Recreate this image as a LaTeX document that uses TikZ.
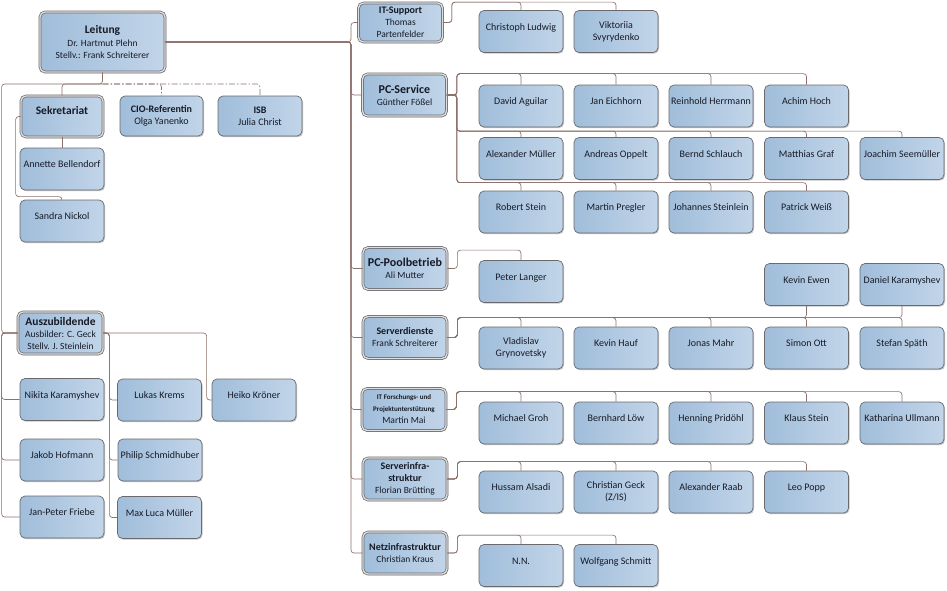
\documentclass[tikz,border=0pt]{standalone}
\usepackage{fontspec}
\setmainfont{Carlito}
\usetikzlibrary{positioning}
\usetikzlibrary{calc}
\usetikzlibrary{shadows}

\definecolor{boxl}{RGB}{160,189,218}
\definecolor{boxr}{RGB}{194,213,233}
\definecolor{linkc}{RGB}{140,112,106}
\definecolor{framec}{RGB}{105,105,110}
\definecolor{txt}{RGB}{22,26,38}

\newcommand\hdbig{\fontsize{12}{13}\selectfont\bfseries}
\newcommand\hdmid{\fontsize{11.5}{13}\selectfont\bfseries}
\newcommand\hdsm{\fontsize{10}{12}\selectfont\bfseries}
\newcommand\hdtiny{\fontsize{7}{11}\selectfont\bfseries}

\begin{document}
\begin{tikzpicture}[x=1pt,y=1pt]
          \tikzstyle{box} = [rectangle, rounded corners=5pt, draw=framec, line width=0.7pt, left color=boxl, right color=boxr, text=txt, align=center, inner sep=1pt, minimum width=84pt, minimum height=42pt, font=\fontsize{10}{12}\selectfont, drop shadow={shadow xshift=1pt, shadow yshift=-1.2pt, fill=black!45, opacity=0.5}]
          \tikzstyle{staff} = [box, text height=7pt, text depth=10pt]
          \tikzstyle{staffii} = [box]
          \tikzstyle{head} = [box, double=gray!25, double distance=1.3pt, font=\fontsize{9.5}{12}\selectfont]
          \tikzstyle{link} = [draw=linkc, line width=0.65pt, rounded corners=3pt]
          \tikzstyle{adviser} = [dash pattern=on 6pt off 2pt on 1.5pt off 2pt]

          \fill[white] (0,0) rectangle (947,-590);
          \useasboundingbox (0,0) rectangle (947,-590);

          % Heads
          \node[head, minimum width=125pt, minimum height=60pt] (leitung) at (102.5,-42) {{\hdmid Leitung}\\[1pt]Dr. Hartmut Plehn\\Stellv.: Frank Schreiterer};
          \node[head, minimum width=82pt, minimum height=41pt, text height=8pt, text depth=12pt] (sek) at (62,-116.5) {\hdmid Sekretariat};
          \node[box, minimum width=83pt, minimum height=40pt] (cio) at (161.5,-116) {{\hdsm CIO-Referentin}\\Olga Yanenko};
          \node[box, minimum width=84pt, minimum height=40pt] (isb) at (260,-116) {{\hdsm ISB}\\Julia Christ};
          \node[head, minimum width=85pt] (azubi) at (60.5,-333) {{\hdmid Auszubildende}\\Ausbilder: C. Geck\\Stellv. J. Steinlein};

          \node[head, minimum height=39pt] (its) at (400.5,-22.5) {{\hdsm IT-Support}\\Thomas\\Partenfelder};
          \node[head] (pcs) at (404.5,-95) {{\hdbig PC-Service}\\Günther Fößel};
          \node[head] (pool) at (405,-268.5) {{\hdbig PC-Poolbetrieb}\\Ali Mutter};
          \node[head] (sd) at (405,-337.5) {{\hdsm Serverdienste}\\Frank Schreiterer};
          \node[head] (fps) at (404,-409.5) {{\hdtiny IT Forschungs- und}\\{\hdtiny Projektunterstützung}\\Martin Mai};
          \node[head] (sif) at (405,-479) {{\hdsm Serverinfra-}\\{\hdsm struktur}\\Florian Brütting};
          \node[head] (nif) at (405,-553) {{\hdsm Netzinfrastruktur}\\Christian Kraus};

          % Staff
          \foreach \n / \x / \y / \t in {annette/62/169/Annette Bellendorf, nickol/62/221/Sandra Nickol,
              nkaramyshev/62/399.5/Nikita Karamyshev, hofmann/62/460/Jakob Hofmann, friebe/62/517/Jan-Peter Friebe,
              krems/159.5/400/Lukas Krems, schmidhuber/160/460/Philip Schmidhuber, mmueller/159.5/517.5/Max Luca Müller,
              kroener/254/400/Heiko Kröner}
            \node[staff] (\n) at (\x,-\y) {\t};

          \foreach \n / \x / \y / \t in {ludwig/521/31.5/Christoph Ludwig,
              aguilar/521/106/David Aguilar, eichhorn/616/106/Jan Eichhorn, herrmann/711/106/Reinhold Herrmann, hoch/806.5/106/Achim Hoch,
              amueller/521/158.5/Alexander Müller, oppelt/616/158.5/Andreas Oppelt, schlauch/711/158.5/Bernd Schlauch,
              graf/806.5/158.5/Matthias Graf, seemueller/902/158.5/Joachim Seemüller,
              rstein/521/212/Robert Stein, pregler/616/212/Martin Pregler, steinlein/711/212/Johannes Steinlein, weiss/806.5/212/Patrick Weiß,
              langer/521/281.5/Peter Langer, ewen/806.5/284.5/Kevin Ewen, dkaramyshev/902/284.5/Daniel Karamyshev,
              hauf/616/348/Kevin Hauf, mahr/711/348/Jonas Mahr, ott/806.5/348/Simon Ott, spaeth/902/348/Stefan Späth,
              groh/521/423/Michael Groh, loew/616/423/Bernhard Löw, pridoehl/711/423/Henning Pridöhl,
              kstein/806.5/423/Klaus Stein, ullmann/902/423/Katharina Ullmann,
              alsadi/521/492/Hussam Alsadi, raab/711/492/Alexander Raab, popp/806.5/492/Leo Popp,
              nn/521/565.5/N.N., schmitt/616/565.5/Wolfgang Schmitt}
            \node[staff] (\n) at (\x,-\y) {\t};

          \node[staffii] (svyrydenko) at (616,-31.5) {Viktoriia\\Svyrydenko};
          \node[staffii] (grynovetsky) at (521,-348) {Vladislav\\Grynovetsky};
          \node[staffii] (geck) at (616,-492) {Christian Geck\\(Z/IS)};

          % Edges, left side
          \coordinate (lsplit) at (102.5,-84);
          \draw[link] (leitung.south) -- (lsplit) -| (sek.north);
          \draw[link, adviser] (lsplit) -| (cio.north);
          \draw[link, adviser] (lsplit) -| (isb.north);
          \draw[link] (lsplit) -| ([xshift=-16pt]azubi.west) -- (azubi.west);
          \draw[link] (sek.south) -- (annette.north);
          \draw[link] (sek.west) -- ++(-5,0) |- ([yshift=3pt]nickol.north) -- (nickol.north);

          \foreach \c in {nkaramyshev, hofmann, friebe}
            \draw[link] (azubi.west) -- ++(-16,0) |- (\c.west);
          \foreach \c in {krems, schmidhuber, mmueller}
            \draw[link] (azubi.east) -- ++(6,0) |- (\c.west);
          \draw[link] (azubi.east) -| ([xshift=-5pt]kroener.west) -- (kroener.west);

          % Edges, trunk
          \coordinate (trunk) at (351,-42);
          \foreach \h in {its, pcs, pool, sd, fps, sif, nif}
            \draw[link] (leitung.east) -- (trunk) |- (\h.west);

          % Edges, groups
          \foreach \c in {ludwig, svyrydenko}
            \draw[link] (its.east) -- ++(9,0) |- ([yshift=8pt]\c.north) -- (\c.north);
          \foreach \c in {aguilar, eichhorn, herrmann, hoch}
            \draw[link] (pcs.east) -- ++(10,0) |- ([yshift=11pt]\c.north) -- (\c.north);
          \foreach \c in {amueller, oppelt, schlauch, graf, seemueller}
            \draw[link] (pcs.east) -- ++(10,0) |- ([yshift=6pt]\c.north) -- (\c.north);
          \foreach \c in {rstein, pregler, steinlein, weiss}
            \draw[link] (pcs.east) -- ++(10,0) |- ([yshift=8pt]\c.north) -- (\c.north);
          \draw[link] (pool.east) -- ++(10,0) |- ([yshift=10pt]langer.north) -- (langer.north);

          \coordinate (sdrail) at ([yshift=9pt]grynovetsky.north);
          \foreach \c in {grynovetsky, hauf, mahr, ott, spaeth}
            \draw[link] (sd.east) -- ++(10,0) |- (sdrail -| \c.north) -- (\c.north);
          \foreach \c in {ewen, dkaramyshev}
            \draw[link] (sd.east) -- ++(10,0) |- (sdrail -| \c.south) -- (\c.south);

          \foreach \c in {groh, loew, pridoehl, kstein, ullmann}
            \draw[link] (fps.east) -- ++(10,0) |- ([yshift=10pt]\c.north) -- (\c.north);
          \foreach \c in {alsadi, geck, raab, popp}
            \draw[link] (sif.east) -- ++(10,0) |- ([yshift=9pt]\c.north) -- (\c.north);
          \foreach \c in {nn, schmitt}
            \draw[link] (nif.east) -- ++(10,0) |- ([yshift=9pt]\c.north) -- (\c.north);

        \end{tikzpicture}
\end{document}
